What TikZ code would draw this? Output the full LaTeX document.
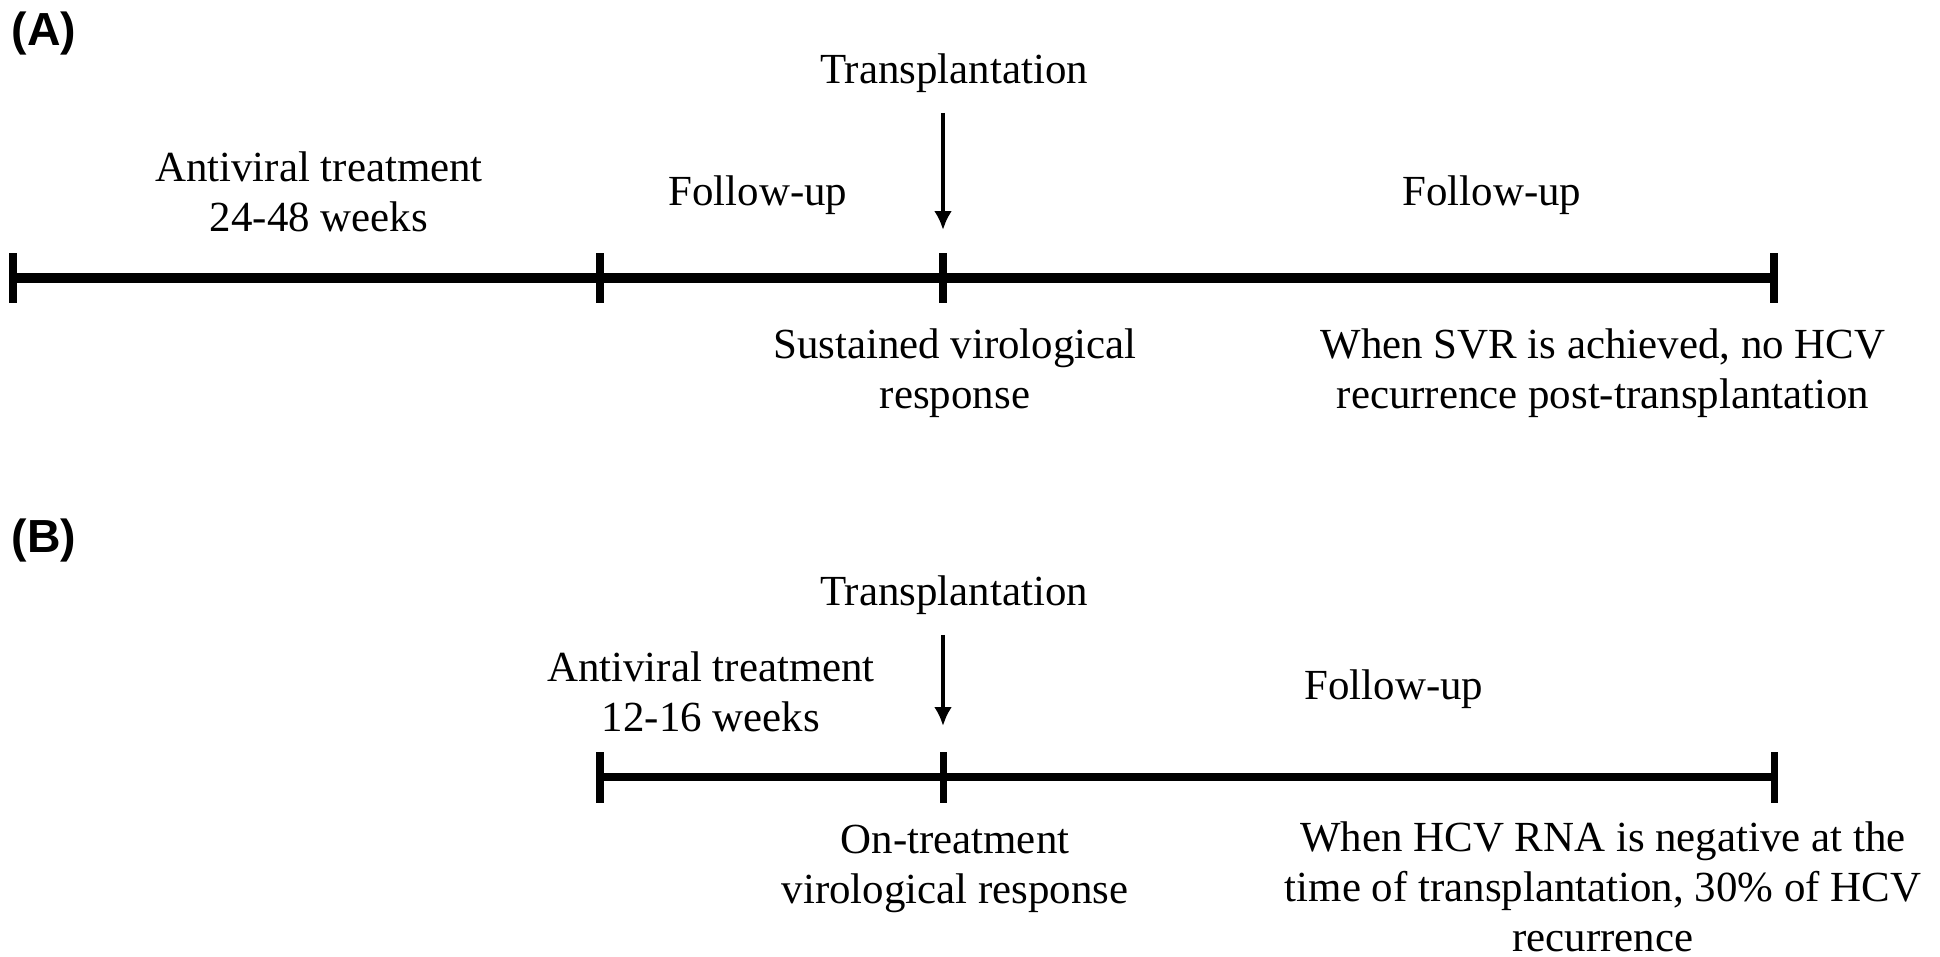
\documentclass[tikz,border=0pt]{standalone}
\usepackage{fontspec}
\setmainfont{Liberation Serif}
\newfontfamily\panelfont{Liberation Sans}
\usetikzlibrary{arrows.meta}

\begin{document}
\begin{tikzpicture}[x=0.01cm, y=-0.01cm, font=\fontsize{12.2}{14.2}\selectfont,
    txt/.style={align=center, inner sep=0pt, anchor=base},
    panel/.style={inner sep=0pt, anchor=base west, font=\panelfont\bfseries\fontsize{13.2}{15}\selectfont},
    timeline/.style={line width=3pt},
    tickmark/.style={line width=2.2pt},
    pointer/.style={line width=1.2pt, shorten <=0.2cm, -{Latex[length=0.19cm, width=0.18cm]}}]
    \useasboundingbox (0,0) rectangle (1940,956);

    % (A) panel
    \node[panel] (pA) at (11,45) {(A)};
    \coordinate (a1) at (13,278);
    \coordinate (a2) at (600,278);
    \coordinate (a3) at (943,278);
    \coordinate (a4) at (1774,278);
    \draw[timeline] (a1) -- (a4);
    \foreach \t in {a1,a2,a3,a4}
        \draw[tickmark] ([yshift=0.25cm]\t) -- ([yshift=-0.25cm]\t);

    % multi-line texts sit on the baseline of their last line
    \node[txt] (treatA) at (319,231) {Antiviral treatment\\24-48 weeks};
    \node[txt] (followA1) at (758,205) {Follow-up};
    \node[txt] (followA2) at (1492,205) {Follow-up};
    \node[txt] (transA) at (954,83) {Transplantation};
    \coordinate (arrA) at (943,230);
    \draw[pointer] (transA.south -| arrA) -- (arrA);

    \node[txt] (svr) at (955,408) {Sustained virological\\response};
    \node[txt] (noRec) at (1603,408) {When SVR is achieved, no HCV\\recurrence post-transplantation};

    % (B) panel
    \node[panel] (pB) at (11,552) {(B)};
    \coordinate (b2) at (600,777);
    \coordinate (b3) at (943,777);
    \coordinate (b4) at (1774,777);
    \draw[timeline, line width=2.2pt] (b2) -- (b4);
    \foreach \t in {b2,b3,b4}
        \draw[tickmark, line width=2pt] ([yshift=0.25cm]\t) -- ([yshift=-0.26cm]\t);

    \node[txt] (treatB) at (711,731) {Antiviral treatment\\12-16 weeks};
    \node[txt] (followB) at (1394,699) {Follow-up};
    \node[txt] (transB) at (954,605) {Transplantation};
    \coordinate (arrB) at (943,726);
    \draw[pointer] (transB.south -| arrB) -- (arrB);

    \node[txt] (otvr) at (955,903) {On-treatment\\virological response};
    \node[txt] (rec30) at (1603,951) {When HCV RNA is negative at the\\time of transplantation, 30\% of HCV\\recurrence};
\end{tikzpicture}
\end{document}
